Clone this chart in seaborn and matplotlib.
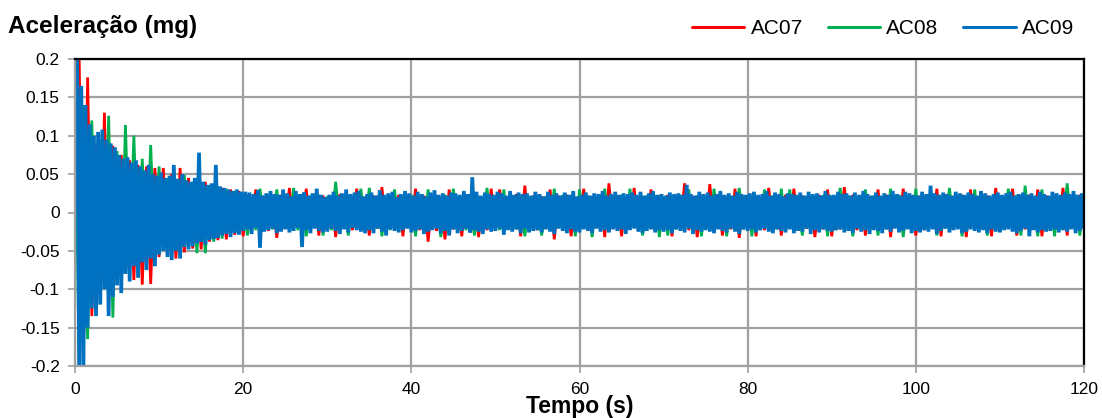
import numpy as np
import pandas as pd
import matplotlib
matplotlib.use("Agg")
import matplotlib.pyplot as plt
import seaborn as sns
from matplotlib.ticker import FuncFormatter

# ---------------- data (accelerations in 0.001 mg) ----------------
series_names = ["AC07", "AC08", "AC09"]
series_colors = ["#FF0000", "#00B050", "#0070C0"]

dt_ac07 = 0.5   # s between samples
dt_ac08 = 0.5
dt_ac09 = 0.25

ac07_milli = [
    0, 200, -186, 176, -135, 90, -110, 130, -123, 87,
    -70, 75, -80, 68, -88, 62, -94, 60, -93, 58,
    -58, 58, -55, 50, -60, 58, -52, 45, -47, 42,
    -48, 40, -38, 35, -36, 32, -35, 30, -29, 28,
    -31, 22, -20, 30, -23, 21, -24, 19, -33, 23,
    -21, 32, -22, 20, -24, 31, -19, 23, -30, 22,
    -22, 21, -32, 24, -20, 22, -23, 31, -21, 20,
    -30, 22, -21, 33, -24, 20, -22, 23, -31, 21,
    -20, 31, -23, 22, -38, 21, -24, 20, -35, 30,
    -22, 20, -31, 23, -21, 22, -32, 20, -23, 31,
    -21, 30, -23, 20, -22, 24, -31, 35, -20, 22,
    -23, 21, -20, 30, -35, 22, -21, 23, -31, 20,
    -22, 31, -24, 21, -20, 23, -32, 38, -21, 22,
    -31, 20, -22, 32, -23, 21, -20, 30, -24, 22,
    -21, 23, -31, 22, -20, 38, -23, 21, -32, 20,
    -22, 37, -20, 23, -30, 21, -22, 31, -33, 22,
    -21, 22, -31, 20, -23, 32, -22, 21, -30, 23,
    -20, 31, -23, 22, -21, 20, -32, 23, -22, 30,
    -31, 21, -22, 33, -20, 23, -23, 22, -30, 21,
    -22, 30, -21, 23, -32, 20, -23, 31, -21, 22,
    -30, 22, -23, 21, -20, 31, -31, 23, -22, 20,
    -21, 23, -32, 30, -22, 21, -20, 22, -31, 32,
    -23, 20, -21, 31, -30, 22, -22, 23, -20, 30,
    -31, 22, -23, 20, -21, 32, -30, 21, -22, 23,
    -20,
]

ac08_milli = [
    170, -205, 140, -165, 120, -125, 95, -100, 126, -137,
    80, -90, 114, -75, 100, -70, 70, -65, 88, -60,
    60, -48, 45, -55, 42, -50, 49, -45, 40, -53,
    38, -53, 35, -38, 30, -34, 31, -30, 28, -27,
    22, -30, 21, -23, 31, -20, 23, -22, 30, -21,
    20, -22, 32, -23, 21, -31, 22, -20, 23, -30,
    21, -23, 40, -21, 22, -30, 20, -22, 31, -23,
    32, -21, 22, -31, 20, -23, 30, -22, 21, -20,
    23, -31, 21, -22, 30, -20, 22, -32, 23, -21,
    31, -22, 20, -23, 22, -30, 21, -20, 32, -22,
    21, -23, 30, -21, 22, -22, 23, -31, 20, -21,
    22, -30, 21, -22, 31, -20, 23, -21, 22, -31,
    30, -21, 22, -32, 20, -22, 31, -23, 21, -20,
    23, -22, 31, -20, 21, -30, 22, -21, 20, -32,
    21, -30, 20, -22, 23, -21, 30, -23, 22, -31,
    20, -22, 31, -21, 22, -31, 21, -20, 32, -22,
    22, -31, 21, -23, 30, -20, 22, -22, 31, -21,
    30, -21, 22, -30, 20, -23, 21, -22, 23, -31,
    21, -23, 32, -20, 22, -31, 20, -21, 30, -22,
    22, -30, 21, -22, 31, -20, 23, -32, 21, -21,
    31, -22, 20, -23, 22, -30, 21, -21, 32, -20,
    20, -31, 22, -21, 30, -22, 21, -30, 20, -23,
    22, -21, 31, -20, 23, -30, 35, -22, 21, -31,
    30, -22, 21, -31, 22, -20, 38, -21, 23, -30,
    20,
]

ac09_milli = [
    5, 200, -200, 165, -205, 140, -150, 115, -125, 100, -135, 105, -120, 108, -100, 95, -135, 90, -110, 85,
    -95, 75, -105, 70, -80, 72, -90, 65, -70, 68, -85, 60, -65, 55, -75, 62, -60, 50, -70, 48,
    -55, 52, -50, 45, -58, 48, -62, 62, -50, 44, -60, 50, -45, 42, -48, 40, -44, 45, -40, 78,
    -38, 40, -42, 36, -36, 38, -34, 62, -33, 34, -30, 32, -28, 30, -32, 28, -27, 30, -29, 27,
    -24, 27, -22, 26, -28, 24, -20, 29, -46, 22, -25, 25, -23, 28, -21, 24, -27, 23, -25, 30,
    -22, 25, -26, 21, -24, 28, -20, 24, -45, 26, -23, 22, -27, 25, -21, 31, -24, 23, -26, 20,
    -25, 23, -21, 27, -24, 22, -28, 25, -22, 30, -26, 24, -20, 26, -23, 28, -25, 21, -27, 24,
    -23, 26, -27, 22, -21, 29, -25, 23, -30, 25, -22, 27, -24, 20, -26, 24, -23, 28, -21, 25,
    -26, 22, -24, 27, -22, 24, -28, 21, -25, 26, -23, 29, -21, 23, -27, 25, -24, 22, -30, 26,
    -22, 25, -27, 23, -24, 28, -21, 24, -26, 46, -23, 27, -25, 22, -28, 26, -22, 24, -25, 23,
    -24, 27, -21, 25, -29, 22, -23, 28, -25, 23, -22, 26, -27, 24, -21, 25, -26, 22, -24, 27,
    -23, 24, -26, 21, -22, 27, -25, 23, -28, 25, -21, 22, -24, 26, -27, 23, -22, 28, -25, 21,
    -26, 23, -22, 26, -24, 22, -27, 25, -21, 24, -25, 28, -23, 22, -26, 24, -22, 27, -24, 23,
    -22, 25, -28, 24, -23, 26, -21, 23, -25, 27, -27, 22, -24, 25, -22, 28, -26, 23, -23, 24,
    -25, 22, -23, 26, -27, 24, -22, 25, -24, 23, -26, 36, -21, 24, -28, 22, -23, 27, -25, 24,
    -23, 26, -25, 22, -27, 24, -22, 28, -24, 23, -26, 25, -21, 22, -25, 27, -28, 24, -22, 23,
    -24, 25, -22, 27, -26, 23, -23, 24, -21, 28, -25, 22, -27, 26, -22, 24, -24, 21, -26, 25,
    -22, 24, -27, 23, -24, 26, -25, 22, -21, 27, -28, 24, -23, 25, -26, 22, -22, 28, -24, 23,
    -25, 23, -23, 27, -22, 24, -26, 25, -24, 22, -27, 26, -21, 23, -25, 28, -23, 24, -28, 22,
    -23, 26, -24, 22, -27, 25, -22, 23, -25, 28, -21, 24, -26, 22, -24, 27, -22, 25, -27, 23,
    -24, 22, -26, 27, -23, 24, -25, 35, -22, 25, -28, 23, -24, 26, -21, 24, -26, 22, -23, 27,
    -22, 25, -27, 23, -25, 26, -22, 24, -24, 22, -26, 28, -23, 25, -27, 22, -22, 24, -25, 26,
    -26, 23, -23, 25, -22, 27, -25, 22, -27, 24, -24, 26, -21, 23, -31, 25, -23, 22, -26, 27,
    -23, 24, -25, 22, -24, 27, -22, 25, -26, 23, -23, 26, -25, 24, -22, 28, -27, 23, -24, 25,
    -20,
]

x_ticks = [0, 20, 40, 60, 80, 100, 120]
y_ticks = [-0.2, -0.15, -0.1, -0.05, 0, 0.05, 0.1, 0.15, 0.2]
y_title = "Aceleração (mg)"
x_title = "Tempo (s)"

# ---------------- build long-form table ----------------
frames = []
for name, vals, dt in zip(series_names,
                          [ac07_milli, ac08_milli, ac09_milli],
                          [dt_ac07, dt_ac08, dt_ac09]):
    v = np.asarray(vals, dtype=float) / 1000.0
    t = np.arange(len(v)) * dt
    frames.append(pd.DataFrame({"Tempo": t, "Aceleracao": v, "Sensor": name}))
df = pd.concat(frames, ignore_index=True)

# ---------------- style ----------------
sns.set_theme(style="white")
plt.rcParams["font.family"] = ["Liberation Sans", "DejaVu Sans"]
plt.rcParams["axes.unicode_minus"] = False
plt.rcParams["text.color"] = "black"

W, H = 1102, 418
fig = plt.figure(figsize=(W / 100, H / 100), dpi=100)
ax = fig.add_axes([75 / W, 1 - 366 / H, (1084 - 75) / W, (366 - 59) / H])

sns.lineplot(data=df, x="Tempo", y="Aceleracao", hue="Sensor",
             hue_order=series_names,
             palette=dict(zip(series_names, series_colors)),
             estimator=None, sort=False, linewidth=1.5, ax=ax, legend=True)

handles, labels = ax.get_legend_handles_labels()
ax.get_legend().remove()

# thicker strokes so the dense signal reads as a solid band
line_widths = {"#FF0000": 2.0, "#00B050": 2.0, "#0070C0": 2.7}
for ln in ax.lines:
    c = matplotlib.colors.to_hex(ln.get_color()).upper()
    if c in line_widths:
        ln.set_linewidth(line_widths[c])
        ln.set_solid_joinstyle("miter")

grid_color = "#A0A0A0"
ax.set_xlim(x_ticks[0], x_ticks[-1])
ax.set_ylim(y_ticks[0], y_ticks[-1])
ax.set_xticks(x_ticks)
ax.set_yticks(y_ticks)


def fmt(v, _pos):
    if abs(v) < 1e-9:
        return "0"
    return f"{round(v, 3):g}"


ax.yaxis.set_major_formatter(FuncFormatter(fmt))
ax.xaxis.set_major_formatter(FuncFormatter(fmt))
ax.grid(True, color=grid_color, linewidth=1.6)
ax.set_axisbelow(True)
ax.set_xlabel("")
ax.set_ylabel("")

for side in ["top", "right"]:
    ax.spines[side].set_color("black")
    ax.spines[side].set_linewidth(1.6)
for side in ["left", "bottom"]:
    ax.spines[side].set_color(grid_color)
    ax.spines[side].set_linewidth(1.6)

ax.tick_params(axis="both", which="major", direction="out", length=5,
               width=1.2, color=grid_color, labelsize=12.5, labelcolor="black")
ax.tick_params(axis="x", pad=6.3)
ax.tick_params(axis="y", pad=6)
ax.tick_params(left=True, bottom=True)

fig.text(8 / W, 1 - 33 / H, y_title, fontsize=17.5, fontweight="bold",
         ha="left", va="baseline", color="black")
fig.text((75 + 1084) / 2 / W, 1 - 413 / H, x_title, fontsize=16.5,
         fontweight="bold", ha="center", va="baseline", color="black")

for h in handles:
    h.set_linewidth(2.2)
leg = fig.legend(handles, labels, loc="center right",
                 bbox_to_anchor=(1074 / W, 1 - 29 / H),
                 bbox_transform=fig.transFigure, ncol=3, frameon=False,
                 fontsize=15, handlelength=2.5, handletextpad=0.3,
                 columnspacing=1.2, borderpad=0, borderaxespad=0)
for txt in leg.get_texts():
    txt.set_color("black")

fig.savefig("out.png", dpi=100)
